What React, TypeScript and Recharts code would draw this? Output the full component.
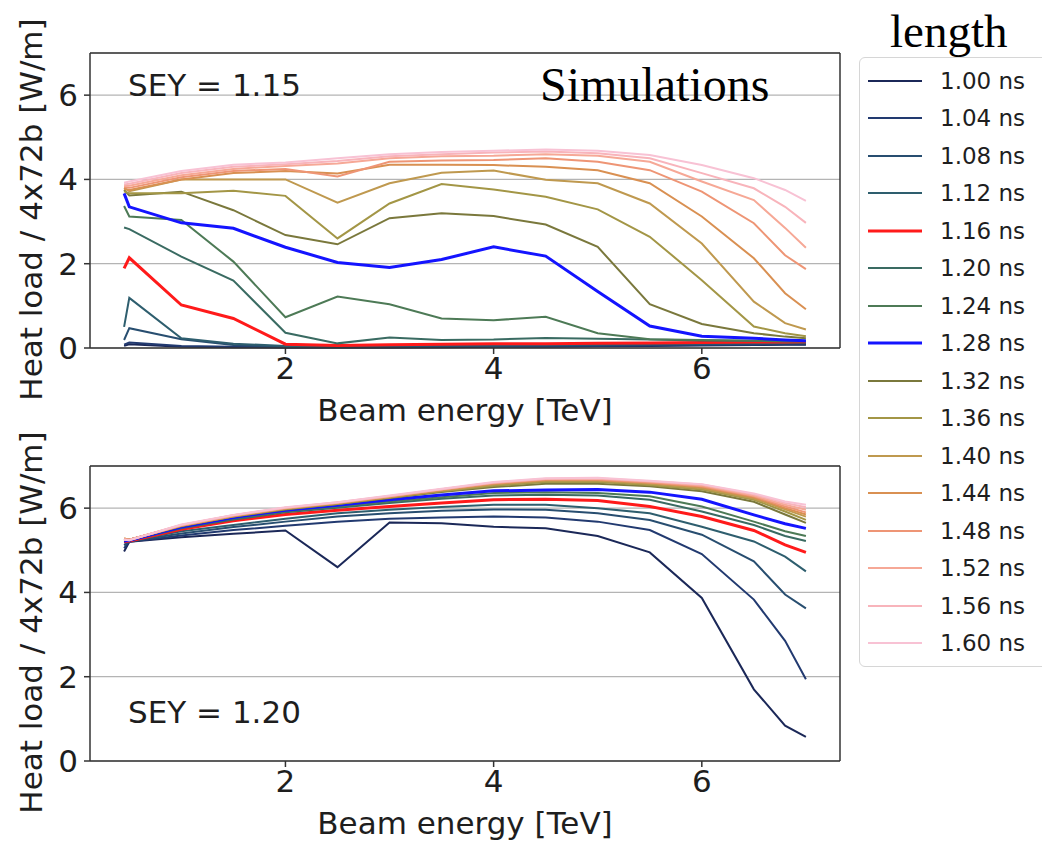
import { LineChart, Line, XAxis, YAxis, CartesianGrid, ReferenceLine } from "recharts";

// beam energy points [TeV]
const energy = [0.45, 0.5, 1, 1.5, 2, 2.5, 3, 3.5, 4, 4.5, 5, 5.5, 6, 6.5, 6.8, 7];

const bunchLengths = ["1.00", "1.04", "1.08", "1.12", "1.16", "1.20", "1.24", "1.28",
  "1.32", "1.36", "1.40", "1.44", "1.48", "1.52", "1.56", "1.60"];

const lineColors = ["#1b2858", "#223a70", "#284e70", "#2e5e6e", "#ff1a1a", "#3a6b62",
  "#4d7a56", "#1414ff", "#7a783c", "#a39646", "#bf994f", "#d99052", "#ee9575",
  "#f6a896", "#f8b4bb", "#f8c2d4"];

// heat load [W/m], SEY = 1.15, one row per bunch length
const sey115 = [
  [0.05, 0.09, 0.03, 0.02, 0.01, 0.01, 0.01, 0.02, 0.03, 0.03, 0.04, 0.05, 0.06, 0.07, 0.08, 0.08],
  [0.08, 0.13, 0.05, 0.03, 0.02, 0.02, 0.02, 0.03, 0.04, 0.04, 0.05, 0.06, 0.07, 0.08, 0.09, 0.09],
  [0.19, 0.47, 0.21, 0.07, 0.03, 0.03, 0.04, 0.05, 0.05, 0.06, 0.07, 0.08, 0.09, 0.1, 0.11, 0.11],
  [0.5, 1.19, 0.23, 0.1, 0.05, 0.05, 0.06, 0.07, 0.08, 0.08, 0.09, 0.1, 0.11, 0.12, 0.12, 0.13],
  [1.89, 2.14, 1.02, 0.7, 0.09, 0.06, 0.08, 0.09, 0.1, 0.1, 0.11, 0.12, 0.13, 0.14, 0.14, 0.15],
  [2.86, 2.82, 2.17, 1.6, 0.36, 0.11, 0.25, 0.19, 0.2, 0.24, 0.22, 0.2, 0.18, 0.17, 0.16, 0.16],
  [3.37, 3.12, 3.04, 2.05, 0.73, 1.22, 1.04, 0.7, 0.66, 0.74, 0.35, 0.21, 0.19, 0.17, 0.16, 0.16],
  [3.67, 3.35, 2.97, 2.84, 2.39, 2.03, 1.91, 2.1, 2.4, 2.18, 1.34, 0.52, 0.28, 0.23, 0.19, 0.17],
  [3.75, 3.62, 3.71, 3.27, 2.68, 2.46, 3.08, 3.2, 3.13, 2.93, 2.4, 1.04, 0.57, 0.35, 0.27, 0.23],
  [3.72, 3.67, 3.67, 3.73, 3.61, 2.6, 3.43, 3.89, 3.76, 3.59, 3.29, 2.64, 1.61, 0.51, 0.35, 0.28],
  [3.8, 3.72, 4.0, 4.0, 4.0, 3.45, 3.91, 4.16, 4.21, 3.99, 3.91, 3.43, 2.48, 1.1, 0.59, 0.44],
  [3.78, 3.75, 4.0, 4.15, 4.2, 4.14, 4.35, 4.35, 4.34, 4.3, 4.22, 3.91, 3.12, 2.13, 1.3, 0.92],
  [3.82, 3.8, 4.05, 4.2, 4.25, 4.07, 4.42, 4.45, 4.46, 4.5, 4.42, 4.22, 3.71, 2.96, 2.2, 1.87],
  [3.85, 3.85, 4.1, 4.25, 4.32, 4.38, 4.5, 4.55, 4.56, 4.6, 4.56, 4.42, 3.95, 3.51, 2.85, 2.38],
  [3.88, 3.9, 4.15, 4.3, 4.36, 4.44, 4.55, 4.6, 4.64, 4.66, 4.62, 4.5, 4.15, 3.79, 3.35, 2.97],
  [3.92, 3.95, 4.2, 4.35, 4.4, 4.5, 4.6, 4.65, 4.68, 4.71, 4.68, 4.58, 4.34, 4.03, 3.75, 3.49],
];

// heat load [W/m], SEY = 1.20
const sey120 = [
  [4.97, 5.2, 5.31, 5.39, 5.47, 4.6, 5.66, 5.64, 5.56, 5.52, 5.34, 4.95, 3.87, 1.7, 0.84, 0.57],
  [5.05, 5.2, 5.35, 5.48, 5.58, 5.68, 5.75, 5.78, 5.8, 5.78, 5.68, 5.48, 4.91, 3.83, 2.85, 1.94],
  [5.12, 5.21, 5.4, 5.55, 5.68, 5.8, 5.88, 5.94, 5.97, 5.96, 5.88, 5.72, 5.37, 4.74, 3.95, 3.62],
  [5.18, 5.22, 5.45, 5.6, 5.75, 5.88, 5.96, 6.03, 6.08, 6.08, 6.0, 5.88, 5.56, 5.21, 4.85, 4.5],
  [5.2, 5.22, 5.5, 5.7, 5.85, 5.95, 6.04, 6.12, 6.2, 6.21, 6.18, 6.04, 5.8, 5.47, 5.13, 4.95],
  [5.22, 5.23, 5.52, 5.73, 5.9, 6.01, 6.12, 6.22, 6.3, 6.32, 6.3, 6.2, 5.92, 5.6, 5.34, 5.22],
  [5.24, 5.23, 5.54, 5.76, 5.92, 6.04, 6.16, 6.26, 6.36, 6.38, 6.36, 6.28, 6.04, 5.68, 5.45, 5.34],
  [5.22, 5.24, 5.55, 5.78, 5.95, 6.07, 6.2, 6.31, 6.41, 6.43, 6.44, 6.38, 6.21, 5.84, 5.63, 5.52],
  [5.26, 5.25, 5.57, 5.8, 5.97, 6.1, 6.24, 6.38, 6.5, 6.58, 6.58, 6.52, 6.4, 6.15, 5.85, 5.65],
  [5.27, 5.25, 5.58, 5.8, 5.98, 6.1, 6.25, 6.4, 6.53, 6.62, 6.62, 6.55, 6.44, 6.2, 5.92, 5.72],
  [5.28, 5.25, 5.58, 5.81, 5.99, 6.12, 6.26, 6.42, 6.56, 6.65, 6.65, 6.58, 6.47, 6.23, 5.97, 5.8],
  [5.28, 5.25, 5.59, 5.82, 6.0, 6.12, 6.27, 6.43, 6.58, 6.67, 6.67, 6.6, 6.5, 6.26, 6.0, 5.85],
  [5.27, 5.25, 5.59, 5.82, 6.0, 6.13, 6.28, 6.44, 6.59, 6.68, 6.68, 6.61, 6.52, 6.28, 6.04, 5.9],
  [5.26, 5.25, 5.6, 5.83, 6.01, 6.13, 6.28, 6.45, 6.6, 6.69, 6.7, 6.63, 6.54, 6.3, 6.08, 5.96],
  [5.25, 5.24, 5.6, 5.83, 6.01, 6.14, 6.29, 6.45, 6.61, 6.7, 6.71, 6.64, 6.56, 6.33, 6.12, 6.02],
  [5.25, 5.24, 5.61, 5.84, 6.02, 6.14, 6.3, 6.46, 6.62, 6.71, 6.72, 6.65, 6.57, 6.35, 6.16, 6.08],
];

const xTicks = [2, 4, 6];
const yTicks = [0, 2, 4, 6];
const xDomain: [number, number] = [0.1225, 7.3275];
const yDomain: [number, number] = [0, 7];

const FONT = "'DejaVu Sans', sans-serif";
const INK = "#1e1e1e";
const FS = 31;
const thick = (i: number) => (i === 4 || i === 7 ? 3 : 2);
const keyOf = (i: number) => `b${i}`;

function buildRows(series: number[][]) {
  return energy.map((x, k) => {
    const row: Record<string, number> = { x };
    series.forEach((vals, i) => {
      row[keyOf(i)] = vals[k];
    });
    return row;
  });
}

function YLabel(props: any) {
  const { y, height } = props.viewBox;
  const cx = 31;
  const cy = y + height / 2 + 9;
  return (
    <text
      x={cx}
      y={cy}
      transform={`rotate(-90 ${cx} ${cy})`}
      textAnchor="middle"
      dominantBaseline="central"
      fontSize={FS}
      fill={INK}
      fontFamily={FONT}
    >
      Heat load / 4x72b [W/m]
    </text>
  );
}

function Panel({ series, top, sey, extra }: { series: number[][]; top: number; sey: string; extra?: string }) {
  const rows = buildRows(series);
  const tickStyle = { fontSize: FS, fill: INK, fontFamily: FONT };
  return (
    <div style={{ position: "absolute", left: 0, top, width: 840, height: 440 }}>
      <LineChart width={842} height={440} data={rows} margin={{ top: 53, right: 2, bottom: 0, left: 0 }}>
        <CartesianGrid vertical={false} stroke="#b4b4b4" strokeWidth={1.2} />
        <XAxis
          dataKey="x"
          type="number"
          domain={xDomain}
          ticks={xTicks}
          height={92}
          tickSize={6}
          tickMargin={3}
          stroke="#333"
          strokeWidth={1.5}
          tick={tickStyle}
          label={{ value: "Beam energy [TeV]", position: "insideBottom", offset: 19, fontSize: FS, fill: INK, fontFamily: FONT }}
        />
        <YAxis
          type="number"
          domain={yDomain}
          ticks={yTicks}
          width={90}
          tickSize={6}
          tickMargin={6}
          stroke="#333"
          strokeWidth={1.5}
          tick={tickStyle}
          label={<YLabel />}
        />
        <ReferenceLine y={7} stroke="#333" strokeWidth={1.5} />
        <ReferenceLine x={xDomain[1]} stroke="#333" strokeWidth={1.5} />
        {bunchLengths.map((b, i) => (
          <Line
            key={b}
            dataKey={keyOf(i)}
            type="linear"
            stroke={lineColors[i]}
            strokeWidth={thick(i)}
            dot={false}
            isAnimationActive={false}
          />
        ))}
      </LineChart>
      <div
        style={{
          position: "absolute",
          left: 128,
          top: extra ? 67 : 281,
          fontFamily: FONT,
          fontSize: FS,
          color: INK,
          whiteSpace: "nowrap",
        }}
      >
        SEY = {sey}
      </div>
      {extra && (
        <div
          style={{
            position: "absolute",
            left: 540,
            top: 57,
            fontFamily: "'Liberation Serif', serif",
            fontSize: 48,
            color: "#000",
            whiteSpace: "nowrap",
          }}
        >
          {extra}
        </div>
      )}
    </div>
  );
}

function LegendBox() {
  return (
    <div
      style={{
        position: "absolute",
        left: 859,
        top: 57,
        width: 200,
        height: 610,
        border: "1.5px solid #d6d6d6",
        borderRadius: 6,
        background: "#fff",
        boxSizing: "border-box",
        paddingTop: 4,
      }}
    >
      {bunchLengths.map((b, i) => (
        <div key={b} style={{ height: 37.5, display: "flex", alignItems: "center" }}>
          <svg width={72} height={10} style={{ marginLeft: 8 }}>
            <line x1={0} x2={54} y1={5} y2={5} stroke={lineColors[i]} strokeWidth={thick(i)} />
          </svg>
          <span style={{ fontFamily: FONT, fontSize: 23, color: INK }}>{b} ns</span>
        </div>
      ))}
    </div>
  );
}

export default function App() {
  return (
    <div style={{ position: "absolute", left: 0, top: 0, width: 1042, height: 843, overflow: "hidden", background: "#fff" }}>
      <Panel series={sey115} top={0} sey="1.15" extra="Simulations" />
      <Panel series={sey120} top={413} sey="1.20" />
      <LegendBox />
      <div
        style={{
          position: "absolute",
          left: 890,
          top: 4,
          fontFamily: "'Liberation Serif', serif",
          fontSize: 47,
          color: "#000",
        }}
      >
        length
      </div>
    </div>
  );
}
